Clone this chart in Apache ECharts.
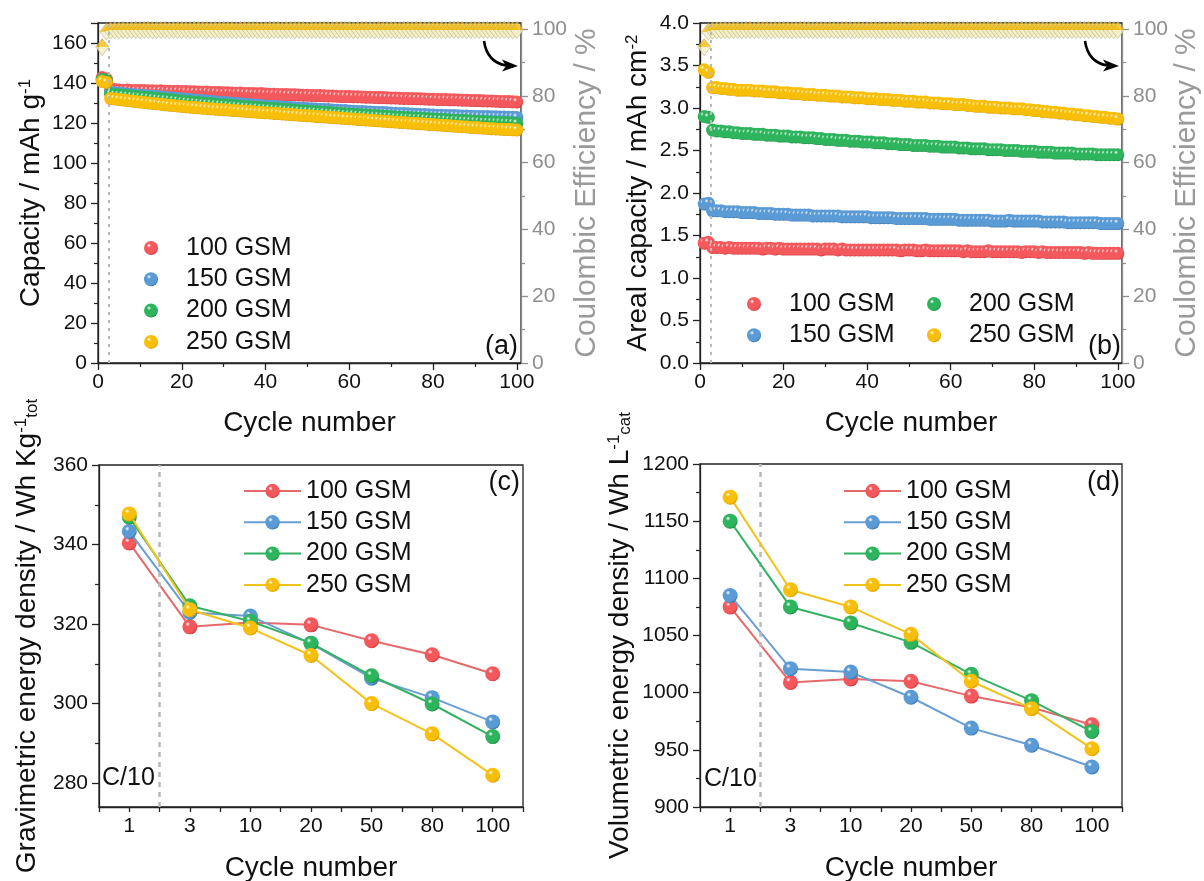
<!DOCTYPE html>
<html><head><meta charset="utf-8">
<script src="https://cdn.jsdelivr.net/npm/echarts@6/dist/echarts.min.js"></script>
<style>html,body{margin:0;padding:0;background:#fff}#c{width:1204px;height:881px}</style>
</head><body><div id="c"></div>
<script>
// ---------------- DATA ----------------
const loadings = ['100 GSM', '150 GSM', '200 GSM', '250 GSM'];
// (a) specific capacity, mAh g-1, cycles 1..100
const capA_100 = [142.7,142.0,
136.6,136.7,136.5,136.4,136.5,136.3,136.3,136.2,
136.2,136.1,136.1,136.0,136.1,135.9,135.9,135.8,135.9,135.7,
135.7,135.6,135.6,135.5,135.4,135.5,135.3,135.3,135.2,135.1,
135.1,135.0,134.9,135.0,134.8,134.8,134.7,134.6,134.7,134.5,
134.4,134.4,134.3,134.3,134.2,134.1,134.1,134.0,133.9,133.9,
133.8,133.7,133.7,133.6,133.5,133.5,133.4,133.3,133.3,133.2,
133.1,133.1,133.0,132.9,132.9,132.8,132.7,132.7,132.6,132.5,
132.5,132.4,132.3,132.3,132.2,132.1,132.1,132.0,131.9,131.9,
131.8,131.7,131.7,131.6,131.6,131.5,131.4,131.4,131.3,131.2,
131.2,131.1,131.0,131.0,130.9,130.8,130.8,130.7,130.6,130.5];
const capA_150 = [141.5,141.1,
135.3,135.1,134.9,134.7,134.5,134.3,134.1,133.9,
133.7,133.5,133.4,133.2,133.0,132.8,132.6,132.5,132.3,132.1,
131.9,131.7,131.5,131.3,131.2,131.0,130.8,130.6,130.4,130.2,
130.1,129.9,129.7,129.6,129.4,129.2,129.0,128.9,128.7,128.5,
128.4,128.3,128.1,128.0,127.9,127.7,127.6,127.5,127.4,127.2,
127.1,127.0,126.9,126.8,126.7,126.5,126.4,126.3,126.2,126.0,
125.9,125.8,125.7,125.6,125.5,125.4,125.3,125.2,125.1,125.0,
124.9,124.8,124.7,124.6,124.5,124.4,124.3,124.2,124.1,124.0,
123.9,123.9,123.8,123.7,123.7,123.6,123.5,123.5,123.4,123.3,
123.3,123.2,123.2,123.1,123.1,123.0,123.0,122.9,122.9,122.8];
const capA_200 = [141.8,141.2,
134.5,134.3,134.1,133.9,133.7,133.5,133.3,133.1,
132.9,132.7,132.5,132.3,132.1,131.9,131.7,131.5,131.3,131.0,
130.8,130.6,130.4,130.2,130.0,129.8,129.7,129.5,129.3,129.1,
128.9,128.7,128.6,128.4,128.2,128.1,127.9,127.8,127.6,127.5,
127.3,127.2,127.0,126.9,126.7,126.6,126.4,126.3,126.1,126.0,
125.8,125.7,125.5,125.4,125.2,125.1,124.9,124.8,124.6,124.5,
124.4,124.2,124.1,124.0,123.8,123.7,123.6,123.4,123.3,123.2,
123.0,122.9,122.8,122.7,122.6,122.5,122.4,122.3,122.1,122.0,
121.9,121.8,121.7,121.5,121.4,121.3,121.2,121.1,121.0,120.9,
120.8,120.7,120.6,120.5,120.4,120.3,120.2,120.1,120.0,119.8];
const capA_250 = [140.8,140.3,
132.2,132.0,131.7,131.5,131.2,131.0,130.7,130.5,
130.3,130.0,129.8,129.6,129.4,129.1,128.9,128.7,128.5,128.3,
128.1,127.9,127.8,127.6,127.4,127.3,127.1,126.9,126.8,126.6,
126.5,126.3,126.2,126.0,125.9,125.7,125.6,125.4,125.3,125.1,
125.0,124.8,124.7,124.5,124.4,124.2,124.1,123.9,123.8,123.6,
123.5,123.3,123.2,123.0,122.9,122.7,122.6,122.4,122.3,122.1,
122.0,121.8,121.7,121.5,121.4,121.2,121.1,120.9,120.8,120.6,
120.5,120.3,120.2,120.0,119.9,119.8,119.6,119.5,119.3,119.2,
119.0,118.9,118.7,118.6,118.4,118.3,118.1,118.0,117.8,117.7,
117.6,117.4,117.3,117.1,117.0,116.9,116.8,116.7,116.6,116.5];
// (b) areal capacity, mAh cm-2, cycles 1..100
const arB_100 = [1.41,1.42,
1.36,1.36,1.36,1.35,1.36,1.35,1.35,1.35,
1.35,1.35,1.35,1.35,1.34,1.35,1.35,1.34,1.35,1.34,
1.34,1.34,1.34,1.34,1.34,1.34,1.34,1.34,1.33,1.34,
1.34,1.34,1.33,1.34,1.33,1.33,1.33,1.33,1.33,1.33,
1.33,1.33,1.33,1.33,1.33,1.33,1.33,1.32,1.33,1.33,
1.33,1.32,1.32,1.33,1.32,1.32,1.32,1.32,1.32,1.32,
1.32,1.32,1.31,1.32,1.31,1.31,1.31,1.31,1.32,1.31,
1.31,1.31,1.31,1.31,1.31,1.31,1.30,1.31,1.31,1.31,
1.30,1.31,1.30,1.30,1.30,1.30,1.30,1.30,1.30,1.30,
1.30,1.29,1.30,1.29,1.29,1.29,1.29,1.29,1.29,1.29];
const arB_150 = [1.87,1.88,
1.79,1.79,1.79,1.78,1.78,1.78,1.78,1.77,
1.77,1.77,1.77,1.76,1.76,1.76,1.76,1.75,1.75,1.75,
1.75,1.74,1.74,1.74,1.74,1.74,1.73,1.73,1.73,1.73,
1.73,1.73,1.73,1.72,1.72,1.72,1.72,1.72,1.72,1.72,
1.71,1.71,1.71,1.71,1.71,1.71,1.70,1.70,1.70,1.70,
1.70,1.70,1.70,1.70,1.69,1.69,1.69,1.69,1.69,1.69,
1.69,1.68,1.68,1.68,1.68,1.68,1.68,1.68,1.68,1.67,
1.67,1.67,1.67,1.68,1.67,1.67,1.67,1.67,1.67,1.67,
1.67,1.66,1.66,1.66,1.66,1.66,1.66,1.65,1.65,1.65,
1.65,1.65,1.65,1.65,1.65,1.64,1.64,1.64,1.64,1.64];
const arB_200 = [2.90,2.89,
2.74,2.73,2.73,2.72,2.72,2.71,2.71,2.70,
2.70,2.70,2.69,2.69,2.69,2.68,2.68,2.68,2.67,2.67,
2.67,2.66,2.66,2.66,2.65,2.65,2.65,2.64,2.64,2.63,
2.63,2.63,2.62,2.62,2.62,2.61,2.61,2.61,2.60,2.60,
2.60,2.59,2.59,2.59,2.58,2.58,2.58,2.57,2.57,2.57,
2.56,2.56,2.56,2.56,2.55,2.55,2.55,2.54,2.54,2.54,
2.54,2.53,2.53,2.53,2.52,2.52,2.52,2.52,2.51,2.51,
2.51,2.51,2.50,2.50,2.50,2.50,2.49,2.49,2.49,2.49,
2.48,2.48,2.48,2.48,2.47,2.47,2.47,2.47,2.47,2.46,
2.46,2.46,2.46,2.46,2.45,2.45,2.45,2.45,2.45,2.45];
const arB_250 = [3.45,3.42,
3.24,3.24,3.23,3.23,3.22,3.22,3.21,3.21,
3.21,3.21,3.20,3.20,3.20,3.19,3.19,3.19,3.18,3.18,
3.18,3.17,3.17,3.17,3.16,3.16,3.16,3.15,3.15,3.15,
3.14,3.14,3.14,3.13,3.13,3.13,3.12,3.12,3.12,3.11,
3.11,3.11,3.10,3.10,3.10,3.09,3.09,3.09,3.08,3.08,
3.08,3.07,3.07,3.07,3.06,3.06,3.06,3.05,3.05,3.05,
3.04,3.04,3.04,3.03,3.03,3.02,3.02,3.02,3.01,3.01,
3.01,3.00,3.00,3.00,2.99,2.99,2.99,2.98,2.98,2.97,
2.97,2.96,2.96,2.95,2.95,2.94,2.94,2.93,2.93,2.92,
2.92,2.91,2.91,2.90,2.90,2.89,2.89,2.88,2.88,2.87];
// Coulombic efficiency, %, cycles 1..100
const ceEff = [94.6,99.2,
99.5,99.6,99.6,99.7,99.6,99.7,99.7,99.6,
99.7,99.7,99.6,99.7,99.7,99.7,99.6,99.7,99.7,99.7,
99.7,99.6,99.7,99.7,99.7,99.7,99.6,99.7,99.7,99.7,
99.7,99.7,99.6,99.7,99.7,99.7,99.7,99.7,99.6,99.7,
99.7,99.7,99.7,99.6,99.7,99.7,99.7,99.7,99.7,99.6,
99.7,99.7,99.7,99.7,99.6,99.7,99.7,99.7,99.7,99.7,
99.6,99.7,99.7,99.7,99.7,99.6,99.7,99.7,99.7,99.7,
99.7,99.6,99.7,99.7,99.7,99.7,99.7,99.6,99.7,99.7,
99.7,99.7,99.6,99.7,99.7,99.7,99.7,99.6,99.7,99.7,
99.7,99.7,99.7,99.6,99.7,99.7,99.7,99.7,99.6,99.7];
// (c), (d)
const cycleCats = ['1', '3', '10', '20', '50', '80', '100'];
const grav_100 = [340.4, 319.3, 320.4, 319.8, 315.8, 312.3, 307.5];
const grav_150 = [343.3, 322.9, 322.0, 315.1, 306.4, 301.5, 295.4];
const grav_200 = [346.9, 324.6, 320.7, 315.2, 307.0, 299.9, 291.7];
const grav_250 = [347.7, 323.6, 319.0, 312.1, 300.0, 292.4, 282.0];
const vol_100 = [1075, 1009, 1012, 1010, 997, 987, 972];
const vol_150 = [1085, 1021, 1018, 996, 969, 954, 935];
const vol_200 = [1150, 1075, 1061, 1044, 1016, 993, 966];
const vol_250 = [1171, 1090, 1075, 1051, 1010, 986, 951];
// tick values
const cycleTicks = [0, 20, 40, 60, 80, 100];
const cycleMinor = [10, 30, 50, 70, 90];
const capTicks = [0, 20, 40, 60, 80, 100, 120, 140, 160, 170];
const capLabels = [0, 20, 40, 60, 80, 100, 120, 140, 160];
const capMinor = [10, 30, 50, 70, 90, 110, 130, 150];
const ceTicks = [0, 20, 40, 60, 80, 100];
const ceMinor = [10, 30, 50, 70, 90];
const arealTicks = [0, 0.5, 1.0, 1.5, 2.0, 2.5, 3.0, 3.5, 4.0];
const arealMinor = [0.25, 0.75, 1.25, 1.75, 2.25, 2.75, 3.25, 3.75];
const gravTicks = [280, 300, 320, 340, 360];
const gravMinor = [290, 310, 330, 350];
const volTicks = [900, 950, 1000, 1050, 1100, 1150, 1200];
const volMinor = [925, 975, 1025, 1075, 1125, 1175];
const catTicks = [-0.5, 0, 0.5, 1, 1.5, 2, 2.5, 3, 3.5, 4, 4.5, 5, 5.5, 6, 6.5];
const catLabels = [0, 1, 2, 3, 4, 5, 6];

// ---------------- STYLE ----------------
const FONT = '"Liberation Sans", Arial, Helvetica, sans-serif';
const BLACK = '#111';
const AX = '#222';
const GREY = '#8e8e8e';
const pal = [
  {base: '#F2585C', dark: '#C9363D', line: '#E46A6C'},
  {base: '#5B9BD5', dark: '#3871AA', line: '#6A9ED2'},
  {base: '#2FB45E', dark: '#1E8A44', line: '#35B163'},
  {base: '#F8BF0A', dark: '#D39A00', line: '#F2C31A'}
];
function sphere(p) {
  return {type: 'radial', x: 0.36, y: 0.32, r: 0.72, colorStops: [
    {offset: 0, color: '#ffffff'}, {offset: 0.22, color: p.base},
    {offset: 0.8, color: p.base}, {offset: 1, color: p.dark}]};
}
const halfDiamond = {type: 'linear', x: 0, y: 0, x2: 0, y2: 1, colorStops: [
  {offset: 0, color: '#F4BE14'}, {offset: 0.5, color: '#F4BE14'},
  {offset: 0.5, color: '#F3EFC4'}, {offset: 1, color: '#F3EFC4'}]};

function majorAxis(dim, gi, pos, min, max, ticks, labels, color, extra) {
  const a = {
    type: 'value', gridIndex: gi, position: pos, min: min, max: max,
    axisLine: {show: true, onZero: false, lineStyle: {color: color, width: 1.3}},
    axisTick: {show: true, length: 7, customValues: ticks, lineStyle: {color: color, width: 1.3}},
    axisLabel: {show: true, customValues: labels, fontSize: 21, color: color === AX ? BLACK : GREY,
      fontFamily: FONT, margin: dim === 'x' ? 9 : 11, formatter: v => String(v)},
    splitLine: {show: false}, minorTick: {show: false}
  };
  return Object.assign(a, extra || {});
}
function minorAxis(gi, pos, min, max, ticks, color, len) {
  return {
    type: 'value', gridIndex: gi, position: pos, min: min, max: max, offset: 0,
    axisLine: {show: false, onZero: false},
    axisTick: {show: true, length: len || 4, customValues: ticks, lineStyle: {color: color, width: 1.2}},
    axisLabel: {show: false}, splitLine: {show: false}
  };
}
function axName(text, color, gap, rich, size) {
  return {
    name: text, nameLocation: 'middle', nameGap: gap,
    nameTextStyle: {fontSize: size || 28, color: color, fontFamily: FONT, rich: rich}
  };
}
const richSup = {
  t: {fontSize: 28, color: BLACK, fontFamily: FONT},
  s: {fontSize: 17, color: BLACK, fontFamily: FONT, verticalAlign: 'top'},
  b: {fontSize: 17, color: BLACK, fontFamily: FONT, verticalAlign: 'bottom'}
};
const cycleName = axName('Cycle number', BLACK, 46);

const xAxis = [
  majorAxis('x', 0, 'bottom', 0, 101, cycleTicks, cycleTicks, AX, cycleName),
  minorAxis(0, 'bottom', 0, 101, cycleMinor, AX),
  majorAxis('x', 1, 'bottom', 0, 101, cycleTicks, cycleTicks, AX, cycleName),
  minorAxis(1, 'bottom', 0, 101, cycleMinor, AX),
  majorAxis('x', 2, 'bottom', -0.5, 6.5, catTicks, catLabels, AX, axName('Cycle number', BLACK, 47)),
  majorAxis('x', 3, 'bottom', -0.5, 6.5, catTicks, catLabels, AX, axName('Cycle number', BLACK, 47))
];
xAxis[4].axisTick.length = 5; xAxis[5].axisTick.length = 5;
xAxis[4].axisLabel.formatter = v => cycleCats[Math.round(v)];
xAxis[5].axisLabel.formatter = v => cycleCats[Math.round(v)];

const yAxis = [
  majorAxis('y', 0, 'left', 0, 170, capTicks, capLabels, AX, axName('{t|Capacity / mAh g}{s|-1}', BLACK, 53, richSup)),
  minorAxis(0, 'left', 0, 170, capMinor, AX),
  majorAxis('y', 0, 'right', 0, 101.8, ceTicks, ceTicks, GREY, axName('Coulombic Efficiency / %', '#9a9a9a', 51, null, 30)),
  minorAxis(0, 'right', 0, 101.8, ceMinor, GREY),
  majorAxis('y', 1, 'left', 0, 4, arealTicks, arealTicks, AX, axName('{t|Areal capacity / mAh cm}{s|-2}', BLACK, 48, richSup)),
  minorAxis(1, 'left', 0, 4, arealMinor, AX),
  majorAxis('y', 1, 'right', 0, 101.8, ceTicks, ceTicks, GREY, axName('Coulombic Efficiency / %', '#9a9a9a', 50, null, 30)),
  minorAxis(1, 'right', 0, 101.8, ceMinor, GREY),
  majorAxis('y', 2, 'left', 274, 360, gravTicks, gravTicks, AX, axName('{t|Gravimetric energy density / Wh Kg}{s|-1}{b|tot}', BLACK, 58, richSup)),
  minorAxis(2, 'left', 274, 360, gravMinor, AX),
  majorAxis('y', 3, 'left', 900, 1200, volTicks, volTicks, AX, axName('{t|Volumetric energy density / Wh L}{s|-1}{b|cat}', BLACK, 66, richSup)),
  minorAxis(3, 'left', 900, 1200, volMinor, AX)
];
yAxis[4].axisLabel.formatter = v => v.toFixed(1);

// ---------------- SERIES ----------------
const capA = [capA_100, capA_150, capA_200, capA_250];
const arB = [arB_100, arB_150, arB_200, arB_250];
const grav = [grav_100, grav_150, grav_200, grav_250];
const vol = [vol_100, vol_150, vol_200, vol_250];

function vline(x, dash, w) {
  return {silent: true, symbol: 'none', animation: false, label: {show: false},
    lineStyle: {color: '#b9b9b9', width: w, type: dash}, data: [{xAxis: x}]};
}
const series = [];
function cycleSeries(arrs, xi, yi, ceY) {
  arrs.forEach((arr, i) => {
    const s = {
      type: 'scatter', name: 'sc|' + loadings[i], xAxisIndex: xi, yAxisIndex: yi,
      symbol: 'circle', symbolSize: 13, clip: false,
      itemStyle: {color: sphere(pal[i]), opacity: 1},
      data: arr.map((v, k) => [k + 1, v]), z: 3
    };
    if (i === 0) s.markLine = vline(2.5, [3, 5], 2);
    series.push(s);
  });
  series.push({
    type: 'scatter', name: 'ce', xAxisIndex: xi, yAxisIndex: ceY,
    symbol: 'diamond', symbolSize: [13, 17], clip: false,
    itemStyle: {color: halfDiamond, borderColor: '#b3ad78', borderWidth: 0.7},
    data: ceEff.map((v, k) => [k + 1, v]), z: 4
  });
}
cycleSeries(capA, 0, 0, 2);
cycleSeries(arB, 2, 4, 6);

function energySeries(arrs, xi, yi) {
  arrs.forEach((arr, i) => {
    const s = {
      type: 'line', name: 'ln|' + loadings[i], xAxisIndex: xi, yAxisIndex: yi,
      symbol: 'circle', symbolSize: 15, showSymbol: true,
      lineStyle: {color: pal[i].line, width: 2},
      itemStyle: {color: sphere(pal[i]), borderWidth: 0},
      data: arr.map((v, k) => [k, v]), z: 3 + i
    };
    if (i === 0) s.markLine = vline(0.5, [5, 5], 2.5);
    series.push(s);
  });
}
energySeries(grav, 4, 8);
energySeries(vol, 5, 10);

// ---------------- LEGENDS ----------------
const fmt = n => n.split('|')[1];
function scLegend(left, top, names) {
  return {left: left, top: top, orient: 'vertical', itemWidth: 36, itemHeight: 14, itemGap: 5.3,
    selectedMode: false, formatter: fmt, data: names.map(n => 'sc|' + n),
    textStyle: {fontSize: 25, lineHeight: 26, color: BLACK, fontFamily: FONT, padding: [0, 0, 0, 12]}};
}
function lnLegend(left, top) {
  return {left: left, top: top, orient: 'vertical', itemWidth: 57, itemHeight: 18, itemGap: 5.3,
    selectedMode: false, formatter: fmt, data: loadings.map(n => 'ln|' + n),
    textStyle: {fontSize: 25, lineHeight: 26, color: BLACK, fontFamily: FONT, padding: [0, 0, 0, 0]}};
}
const legend = [
  scLegend(139, 230, loadings),
  scLegend(742, 286, loadings.slice(0, 2)),
  scLegend(922, 286, loadings.slice(2, 4)),
  lnLegend(238, 473),
  lnLegend(838, 473)
];

// ---------------- ANNOTATIONS ----------------
function txt(s, x, y, align, size) {
  return {type: 'text', x: x, y: y, z: 100, style: {text: s, fontSize: size || 27, fontFamily: FONT,
    fill: BLACK, align: align, verticalAlign: 'middle', textAlign: align, textVerticalAlign: 'middle'}};
}
function arrow(gx) {
  return [
    {type: 'bezierCurve', z: 100, shape: {x1: gx - 37, y1: 41, x2: gx - 15, y2: 65.5, cpx1: gx - 34, cpy1: 62},
      style: {stroke: '#000', lineWidth: 2.6, fill: null}},
    {type: 'polygon', z: 100, shape: {points: [[gx - 19, 59.5], [gx - 3, 66], [gx - 19, 71.5], [gx - 15, 66]]},
      style: {fill: '#000'}}
  ];
}
const graphic = [
  txt('(a)', 518, 347, 'right'), txt('(b)', 1121, 347, 'right'),
  txt('(c)', 520, 483, 'right'), txt('(d)', 1120, 483, 'right'),
  txt('C/10', 102, 778, 'left', 25), txt('C/10', 704, 779, 'left', 25)
].concat(arrow(521), arrow(1122));

const gridStyle = {show: true, borderColor: AX, borderWidth: 1.3, backgroundColor: 'transparent', outerBoundsMode: 'none', containLabel: false};
const option = {
  animation: false,
  backgroundColor: '#ffffff',
  textStyle: {fontFamily: FONT},
  grid: [
    Object.assign({left: 98, top: 23, width: 423, height: 340}, gridStyle),
    Object.assign({left: 700, top: 23, width: 422, height: 340}, gridStyle),
    Object.assign({left: 99, top: 465, width: 424, height: 342}, gridStyle),
    Object.assign({left: 700, top: 464, width: 422, height: 343}, gridStyle)
  ],
  xAxis: xAxis, yAxis: yAxis, series: series, legend: legend, graphic: graphic
};
const chart = echarts.init(document.getElementById('c'), null, {renderer: 'canvas'});
chart.setOption(option);
</script></body></html>
